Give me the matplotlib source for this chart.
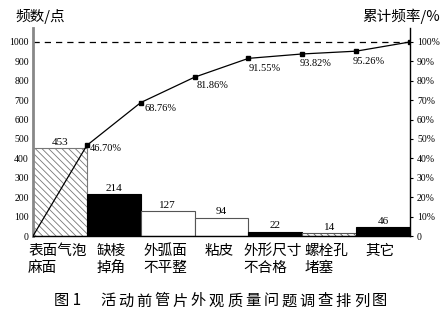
import matplotlib.pyplot as plt
import numpy as np

plt.rcParams['font.family'] = ['Noto Sans CJK SC', 'DejaVu Sans']

categories = ["表面气泡\n麻面", "缺棱\n掉角", "外弧面\n不平整", "粘皮", "外形尺寸\n不合格", "螺栓孔\n堵塞", "其它"]
counts = [453, 214, 127, 94, 22, 14, 46]
cum_pct = [46.70, 68.76, 81.86, 91.55, 93.82, 95.26, 100.0]
caption_no = '图 1'
caption = '活动前管片外观质量问题调查排列图'

num_font = 'Liberation Serif'

fig = plt.figure(figsize=(4.46, 3.25), dpi=100)
ax = fig.add_axes([33 / 446, 1 - 236 / 325, 377 / 446, 208 / 325])

x = np.arange(len(counts))
faces = ['white', 'black', 'white', 'white', 'black', 'white', 'black']
hatches = ['\\\\\\\\\\', None, None, None, None, '\\\\\\\\\\', None]
edges = ['#777777', 'black', '#555555', '#555555', 'black', '#555555', 'black']
for i in range(len(counts)):
    b = ax.bar(x[i], counts[i], width=1.0, color=faces[i], edgecolor=edges[i],
               linewidth=0.8, hatch=hatches[i])
    if hatches[i]:
        b[0].set_hatch_linewidth(0.6)
    ax.text(x[i], counts[i] + 8, str(counts[i]), ha='center', va='bottom',
            fontsize=8, family=num_font)

ax.set_xlim(-0.5, len(counts) - 0.5)
ax.set_ylim(0, 1072)
ax.set_yticks(range(0, 1001, 100))
ax.set_yticklabels([str(v) for v in range(0, 1001, 100)], fontsize=7, family=num_font)
ax.tick_params(axis='y', length=0, pad=3)
ax.set_xticks([])
ax.axhline(1000, color='black', lw=0.9, ls=(0, (5, 4)))

for s in ['top', 'right']:
    ax.spines[s].set_visible(False)
ax.spines['left'].set_color('#888888')
ax.spines['left'].set_linewidth(2)
ax.spines['bottom'].set_linewidth(1)

# cumulative percentage on the right axis
ax2 = ax.twinx()
ax2.set_ylim(0, 107.2)
ax2.set_yticks(range(0, 101, 10))
ax2.set_yticklabels(['0'] + ['%d%%' % v for v in range(10, 101, 10)], fontsize=7, family=num_font)
ax2.tick_params(axis='y', length=2, width=0.8, pad=3)
for s in ['top', 'left', 'bottom']:
    ax2.spines[s].set_visible(False)
ax2.spines['right'].set_linewidth(1)

px = [-0.5] + [i + 0.5 for i in range(len(cum_pct))]
py = [0] + cum_pct
ax2.plot(px, py, color='black', lw=0.9)
ax2.plot(px[1:], py[1:], 's', color='black', ms=3.5)

offsets = [(3, -3), (4, -6), (2, -8), (0, -10), (-3, -10), (-4, -10)]
for i, (dx, dy) in enumerate(offsets):
    ax2.annotate('%.2f%%' % cum_pct[i], (px[i + 1], py[i + 1]), xytext=(dx, dy),
                 textcoords='offset pixels', ha='left', va='center',
                 fontsize=7.5, family=num_font)

for i, c in enumerate(categories):
    ax.text(x[i] - 0.05, -40, c, ha='center', va='top', multialignment='left',
            fontsize=10.5, linespacing=1.3)

fig.text(15 / 446, 1 - 16 / 325, '频数/点', fontsize=10.5, va='center', ha='left')
fig.text(440 / 446, 1 - 16 / 325, '累计频率/%', fontsize=10.5, va='center', ha='right')

# caption, one glyph at a time for the wide spacing
fig.text(54 / 446, 1 - 301 / 325, caption_no, fontsize=11, ha='left', va='center')
for k, ch in enumerate(caption):
    fig.text((108 + 18.1 * k) / 446, 1 - 301 / 325, ch, fontsize=11,
             ha='center', va='center')

fig.savefig('out.png', dpi=100)
